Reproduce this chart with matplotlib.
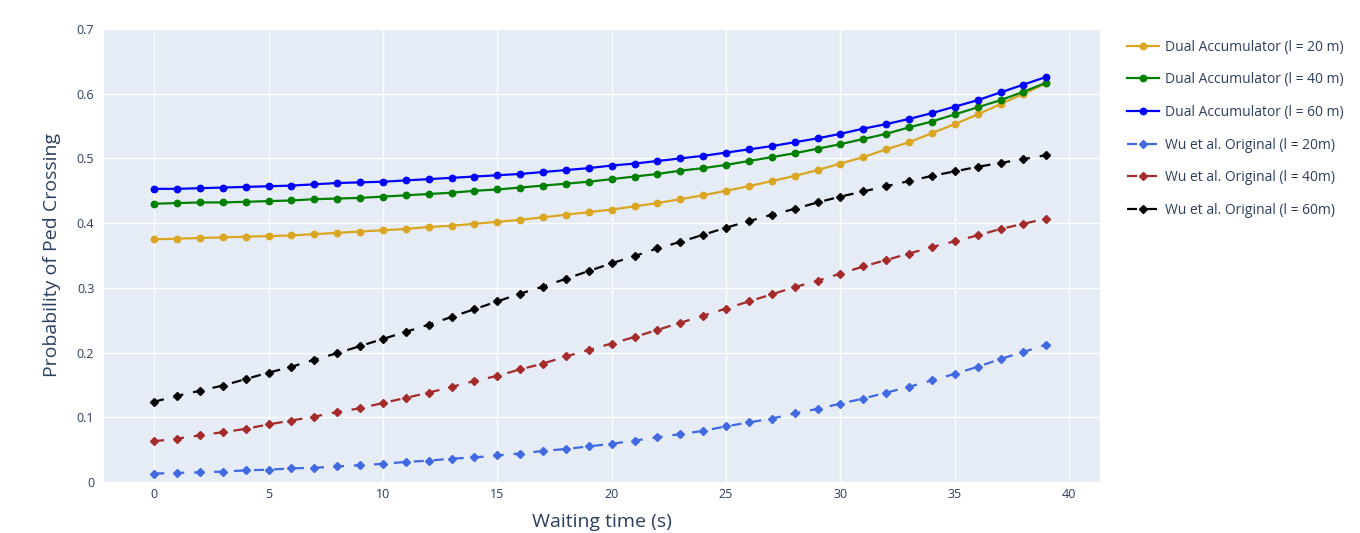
import matplotlib.pyplot as plt
import numpy as np

# waiting time in seconds
t = list(range(40))

dual_20 = [0.375, 0.376, 0.377, 0.378, 0.379, 0.380, 0.381, 0.383, 0.385, 0.387,
           0.389, 0.391, 0.394, 0.396, 0.399, 0.402, 0.405, 0.409, 0.413, 0.417,
           0.421, 0.426, 0.431, 0.437, 0.443, 0.450, 0.457, 0.465, 0.473, 0.482,
           0.492, 0.502, 0.514, 0.525, 0.539, 0.553, 0.568, 0.584, 0.600, 0.616]
dual_40 = [0.430, 0.431, 0.432, 0.432, 0.433, 0.434, 0.435, 0.437, 0.438, 0.439,
           0.441, 0.443, 0.445, 0.447, 0.450, 0.452, 0.455, 0.458, 0.461, 0.464,
           0.468, 0.472, 0.476, 0.481, 0.485, 0.490, 0.496, 0.502, 0.508, 0.515,
           0.522, 0.530, 0.538, 0.548, 0.557, 0.568, 0.579, 0.590, 0.603, 0.617]
dual_60 = [0.453, 0.453, 0.454, 0.455, 0.456, 0.457, 0.458, 0.460, 0.462, 0.463,
           0.464, 0.466, 0.468, 0.470, 0.472, 0.474, 0.476, 0.479, 0.482, 0.485,
           0.489, 0.492, 0.496, 0.500, 0.504, 0.509, 0.514, 0.519, 0.525, 0.531,
           0.538, 0.546, 0.553, 0.561, 0.570, 0.580, 0.590, 0.602, 0.614, 0.626]
wu_20 = [0.013, 0.014, 0.015, 0.016, 0.018, 0.019, 0.021, 0.022, 0.024, 0.026,
         0.028, 0.031, 0.033, 0.036, 0.038, 0.041, 0.044, 0.048, 0.051, 0.055,
         0.059, 0.064, 0.069, 0.074, 0.079, 0.086, 0.092, 0.098, 0.106, 0.113,
         0.121, 0.129, 0.138, 0.147, 0.157, 0.167, 0.178, 0.190, 0.201, 0.212]
wu_40 = [0.063, 0.067, 0.072, 0.077, 0.082, 0.089, 0.095, 0.101, 0.108, 0.114,
         0.122, 0.130, 0.138, 0.147, 0.156, 0.164, 0.174, 0.183, 0.194, 0.204,
         0.214, 0.224, 0.235, 0.246, 0.257, 0.268, 0.279, 0.290, 0.301, 0.311,
         0.322, 0.333, 0.343, 0.353, 0.363, 0.372, 0.381, 0.391, 0.399, 0.407]
wu_60 = [0.124, 0.133, 0.141, 0.149, 0.159, 0.169, 0.178, 0.189, 0.199, 0.210,
         0.221, 0.232, 0.243, 0.255, 0.267, 0.279, 0.291, 0.302, 0.314, 0.326,
         0.338, 0.349, 0.361, 0.371, 0.382, 0.393, 0.403, 0.413, 0.422, 0.432,
         0.441, 0.449, 0.457, 0.465, 0.473, 0.480, 0.487, 0.493, 0.499, 0.505]

labels = ['Dual Accumulator (l = 20 m)', 'Dual Accumulator (l = 40 m)',
          'Dual Accumulator (l = 60 m)', 'Wu et al. Original (l = 20m)',
          'Wu et al. Original (l = 40m)', 'Wu et al. Original (l = 60m)']
colors = ['#DAA520', '#008000', '#0000FF', '#4169E1', '#A52A2A', '#000000']
series = [dual_20, dual_40, dual_60, wu_20, wu_40, wu_60]

plt.rcParams['font.family'] = ['Open Sans', 'DejaVu Sans']
txt = '#2a3f5f'
fig = plt.figure(figsize=(13.6, 5.33), dpi=100)
ax = fig.add_axes([0.0765, 0.0957, 0.7325, 0.8499])
ax.set_facecolor('#E5ECF6')

for i, (y, c, lab) in enumerate(zip(series, colors, labels)):
    if i < 3:
        ax.plot(t, y, color=c, lw=1.6, marker='o', ms=4.6, label=lab)
    else:
        ax.plot(t, y, color=c, lw=1.6, marker='D', ms=4.2, label=lab,
                dashes=(4.5, 4.5))

ax.set_xlim(-2.19, 41.36)
ax.set_ylim(0, 0.7)
ax.set_xticks(range(0, 41, 5))
ax.set_yticks(np.arange(0, 0.71, 0.1))
ax.set_yticklabels(['0', '0.1', '0.2', '0.3', '0.4', '0.5', '0.6', '0.7'])
ax.grid(color='white', lw=1)
ax.set_axisbelow(True)
for s in ax.spines.values():
    s.set_visible(False)
ax.tick_params(length=0, colors=txt, labelsize=9, pad=4)
ax.tick_params(axis='y', pad=7)
ax.set_xlabel('Waiting time (s)', color=txt, fontsize=14, labelpad=9)
ax.set_ylabel('Probability of Ped Crossing', color=txt, fontsize=14, labelpad=11)

leg = fig.legend(loc='upper left', bbox_to_anchor=(0.8195, 0.949), frameon=False,
                 fontsize=10, labelspacing=1.27, handlelength=2.3,
                 handletextpad=0.45, labelcolor=txt)

fig.savefig('out.png', dpi=100)
